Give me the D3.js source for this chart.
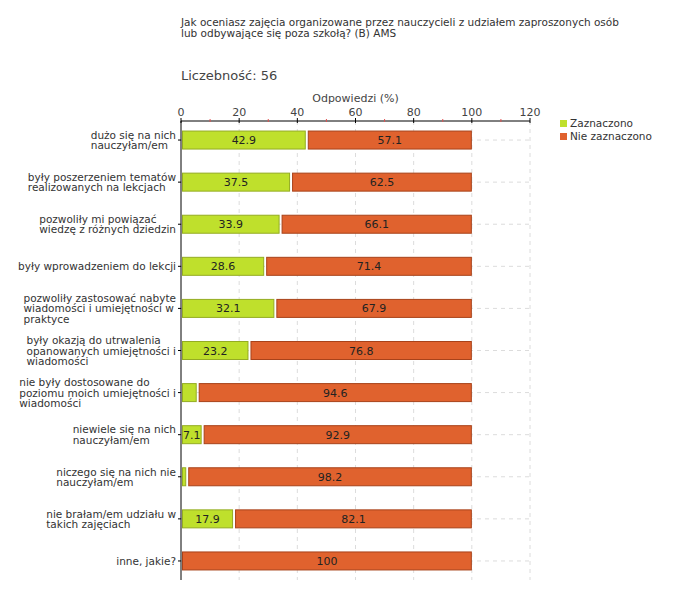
<!DOCTYPE html>
<html><head><meta charset="utf-8">
<script src="https://cdn.jsdelivr.net/npm/d3@7"></script>
<style>body{margin:0;background:#fff}svg{font-family:"DejaVu Sans",Verdana,sans-serif}</style>
</head><body>
<svg id="c" width="680" height="600"></svg>
<script>
const titleLines = ["Jak oceniasz zajęcia organizowane przez nauczycieli z udziałem zaproszonych osób", "lub odbywające się poza szkołą? (B) AMS"];
const countLabel = "Liczebność: 56";
const axisTitle = "Odpowiedzi (%)";
const categories = [
  "dużo się na nich\nnauczyłam/em",
  "były poszerzeniem tematów\nrealizowanych na lekcjach",
  "pozwoliły mi powiązać\nwiedzę z różnych dziedzin",
  "były wprowadzeniem do lekcji",
  "pozwoliły zastosować nabyte\nwiadomości i umiejętności w\npraktyce",
  "były okazją do utrwalenia\nopanowanych umiejętności i\nwiadomości",
  "nie były dostosowane do\npoziomu moich umiejętności i\nwiadomości",
  "niewiele się na nich\nnauczyłam/em",
  "niczego się na nich nie\nnauczyłam/em",
  "nie brałam/em udziału w\ntakich zajęciach",
  "inne, jakie?"
];
const seriesNames = ["Zaznaczono", "Nie zaznaczono"];
const zaznaczono = [42.9, 37.5, 33.9, 28.6, 32.1, 23.2, 5.4, 7.1, 1.8, 17.9, 0];
const nieZaznaczono = [57.1, 62.5, 66.1, 71.4, 67.9, 76.8, 94.6, 92.9, 98.2, 82.1, 100];
const majorTicks = [0, 20, 40, 60, 80, 100, 120];
const minorTicks = [10, 30, 50, 70, 90, 110];

const fills = ["#bfe02c", "#e0622e"];
const strokes = ["#94ac22", "#a8421a"];

const svg = d3.select("#c");
const pL = 181, pR = 530, pT = 121, pB = 580;
const x = d3.scaleLinear().domain([0, 120]).range([pL, pR]);
const y = d3.scaleBand().domain(d3.range(categories.length)).range([pT - 2, pB + 2]);
const bh = 19;

// title
svg.append("text").attr("x", 181).attr("y", 26).attr("font-size", 10.5).attr("fill", "#333")
  .selectAll("tspan").data(titleLines).join("tspan").attr("x", 181).attr("dy", (d, i) => i ? 11 : 0).text(d => d);
svg.append("text").attr("x", 181).attr("y", 80).attr("font-size", 13).attr("fill", "#444").text(countLabel);
svg.append("text").attr("x", (x(0) + x(120)) / 2).attr("y", 102).attr("text-anchor", "middle")
  .attr("font-size", 11).attr("fill", "#444").text(axisTitle);

// grid
const g = svg.append("g");
g.selectAll("line.vg").data(majorTicks.slice(1)).join("line")
  .attr("x1", d => x(d)).attr("x2", d => x(d)).attr("y1", pT).attr("y2", pB)
  .attr("stroke", "#dcdcdc").attr("stroke-dasharray", "4,4");
g.selectAll("line.hg").data(d3.range(categories.length)).join("line")
  .attr("x1", pL).attr("x2", pR).attr("y1", i => y(i) + y.bandwidth() / 2).attr("y2", i => y(i) + y.bandwidth() / 2)
  .attr("stroke", "#dcdcdc").attr("stroke-dasharray", "4,4");

// bars
const rows = svg.append("g").selectAll("g").data(d3.range(categories.length)).join("g");
rows.each(function(i) {
  const r = d3.select(this);
  const cy = y(i) + y.bandwidth() / 2;
  const vals = [zaznaczono[i], nieZaznaczono[i]];
  let cum = 0;
  vals.forEach((v, k) => {
    if (v <= 0) { cum += v; return; }
    const x0 = x(cum) + (k === 0 || cum === 0 ? 1 : 2);
    const x1 = x(cum + v);
    r.append("rect").attr("x", x0 + 0.5).attr("y", cy - bh / 2 + 0.5).attr("width", Math.max(0, x1 - x0 - 1)).attr("height", bh - 1)
      .attr("fill", fills[k]).attr("stroke", strokes[k]);
    if (x1 - x0 > 18) {
      r.append("text").attr("x", (x0 + x1) / 2).attr("y", cy + 4).attr("text-anchor", "middle")
        .attr("font-size", 11).attr("fill", "#222").text(d3.format(".1f")(v).replace(/\.0$/, ""));
    }
    cum += v;
  });
});

// axes
const ax = svg.append("g");
ax.append("line").attr("x1", pL).attr("x2", pR).attr("y1", pT).attr("y2", pT).attr("stroke", "#000");
ax.append("line").attr("x1", pL).attr("x2", pL).attr("y1", pT).attr("y2", pB).attr("stroke", "#000");
ax.selectAll("line.mt").data(majorTicks).join("line")
  .attr("x1", d => x(d)).attr("x2", d => x(d)).attr("y1", pT - 3).attr("y2", pT + 2).attr("stroke", "#000");
ax.selectAll("line.nt").data(minorTicks).join("line")
  .attr("x1", d => x(d)).attr("x2", d => x(d)).attr("y1", pT - 2).attr("y2", pT + 1).attr("stroke", "#e05050");
ax.selectAll("text.tl").data(majorTicks).join("text")
  .attr("x", d => x(d)).attr("y", pT - 5).attr("text-anchor", "middle").attr("font-size", 11).attr("fill", "#444").text(d => d);
ax.selectAll("line.yt").data(d3.range(categories.length)).join("line")
  .attr("x1", pL - 3).attr("x2", pL).attr("y1", i => y(i) + y.bandwidth() / 2).attr("y2", i => y(i) + y.bandwidth() / 2).attr("stroke", "#000");

// category labels: block right-aligned to axis, lines left-aligned within block
svg.append("g").selectAll("text").data(categories).join("text")
  .attr("font-size", 10.5).attr("fill", "#333")
  .each(function(d, i) {
    const lines = d.split("\n");
    const cy = y(i) + y.bandwidth() / 2;
    const t = d3.select(this);
    const spans = lines.map((l, j) => t.append("tspan")
      .attr("y", cy + 4 + (j - (lines.length - 1) / 2) * 10.5).text(l));
    const w = d3.max(spans, s => s.node().getComputedTextLength());
    spans.forEach(s => s.attr("x", 176 - w));
  });

// legend
const lg = svg.append("g");
seriesNames.forEach((n, k) => {
  lg.append("rect").attr("x", 560).attr("y", 120 + k * 13).attr("width", 7).attr("height", 7).attr("fill", fills[k]);
  lg.append("text").attr("x", 570).attr("y", 127 + k * 13).attr("font-size", 10.5).attr("fill", "#333").text(n);
});
</script>
</body></html>
